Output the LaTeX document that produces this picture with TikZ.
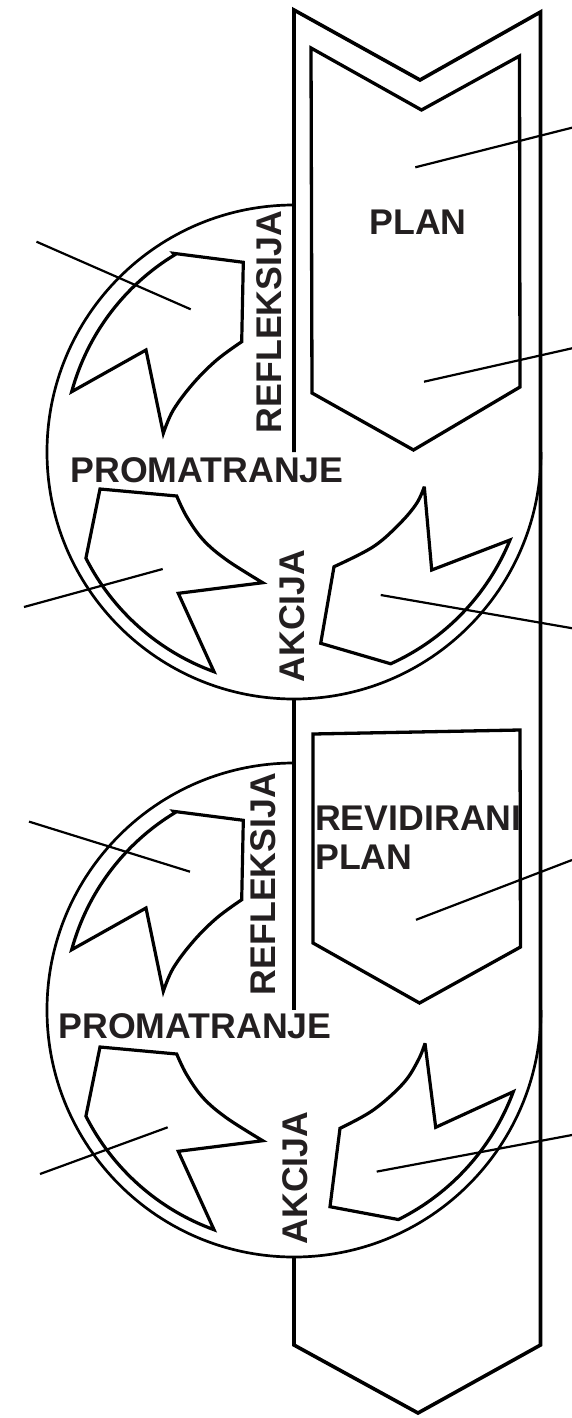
\documentclass[tikz,border=0pt]{standalone}
\usepackage{fontspec}
\setmainfont{Liberation Sans}
\definecolor{ink}{HTML}{231F20}
\begin{document}
\begin{tikzpicture}[x=1pt,y=-1pt,
  strip/.style={line width=3.6pt, line join=miter},
  planbox/.style={line width=3.3pt, line join=miter},
  ring/.style={line width=2.7pt},
  turn/.style={line width=3.2pt, line join=miter, miter limit=4},
  lead/.style={line width=2.2pt},
  lbl/.style={inner sep=0pt, text=ink, font=\fontsize{35.7}{39}\selectfont\bfseries}]
\useasboundingbox (0,0) rectangle (572,1418);

% big strip arrow
\draw[strip] (294,452) -- (294,10) -- (420,80) -- (540.5,12) -- (540.5,1345)
  -- (418,1413) -- (294,1345) -- (294,1257);
\draw[strip] (294,700) -- (294,1010);

% PLAN arrow and revised plan box
\draw[planbox] (311,48) -- (421.5,110) -- (519.5,56) -- (520,387) -- (413.5,450) -- (312,393) -- cycle;
\draw[planbox] (313,734) -- (520,730) -- (520.5,947) -- (419.5,1003) -- (313,943) -- cycle;

% circles with the two common turning arrows
\foreach \cy in {452,1010} {
\begin{scope}[shift={(294,\cy)}]
  \draw[ring] (247,0) arc[start angle=0, end angle=270, radius=247];
  \draw[turn] (-120.7,-198.7) -- (-50.7,-189.7) -- (-52.3,-110.3)
    -- plot[smooth, tension=0.6] coordinates {(-52.3,-110.3) (-77.3,-92) (-100.7,-68.7) (-120.7,-42) (-130.7,-18.7)}
    -- (-148,-102) -- (-222.3,-60.3) arc[start angle=-164.8, end angle=-121.3, radius=231] -- cycle;
  \draw[turn] (-194,37) -- (-117.3,44)
    -- plot[smooth, tension=0.6] coordinates {(-117.3,44) (-107.3,64.7) (-90.7,88) (-67.3,108) (-31.3,130.7)}
    -- (-115.7,141.3) -- (-80,219.7) arc[start angle=110, end angle=153.1, radius=233] -- cycle;
\end{scope}
}
% lower right arrows
\begin{scope}[shift={(294,452)}]
  \draw[turn] (130.3,34.7) -- (137.7,118) -- (216,88) arc[start angle=22.2, end angle=65.7, radius=232]
    -- (26.7,191.3) -- (40,114.7)
    -- plot[smooth, tension=0.6] coordinates {(40,114.7) (79.3,94.7) (106,71.3) (122.7,51.3) (130.3,34.7)} -- cycle;
\end{scope}
\begin{scope}[shift={(294,1010)}]
  \draw[turn] (131,33.3) -- (141.7,117.3) -- (219.3,81.7) arc[start angle=20.4, end angle=63.5, radius=234]
    -- (36,196.7) -- (46,118.3)
    -- plot[smooth, tension=0.6] coordinates {(46,118.3) (79.3,100) (109.3,73.3) (124.3,50) (131,33.3)} -- cycle;
\end{scope}

% labels
\node[lbl] (plan) at (418,222) {PLAN};
\node[lbl, rotate=90] (refl1) at (269,322) {REFLEKSIJA};
\node[lbl] (prom1) at (207,470.5) {PROMATRANJE};
\node[lbl, rotate=90] (akc1) at (292,616) {AKCIJA};
\node[lbl, anchor=base west] (rev1) at (315,830.5) {REVIDIRANI};
\node[lbl, anchor=base west] (rev2) at (315,869.5) {PLAN};
\node[lbl, rotate=90] (refl2) at (263.7,884) {REFLEKSIJA};
\node[lbl] (prom2) at (195,1026) {PROMATRANJE};
\node[lbl, rotate=90] (akc2) at (295,1178) {AKCIJA};

% leader lines
\coordinate (l1a) at (415.3,167.3); \coordinate (l1b) at (572,127.7);
\coordinate (l2a) at (424,381.7);   \coordinate (l2b) at (572,348.3);
\coordinate (l3a) at (190.7,309.3); \coordinate (l3b) at (36.5,241.7);
\coordinate (l4a) at (162.7,569);   \coordinate (l4b) at (24,607);
\coordinate (l5a) at (380.7,595);   \coordinate (l5b) at (572,628.2);
\coordinate (l6a) at (190,871.7);   \coordinate (l6b) at (29,821.6);
\coordinate (l7a) at (416,919.8);   \coordinate (l7b) at (572,860);
\coordinate (l8a) at (167.7,1127.3);\coordinate (l8b) at (40,1174);
\coordinate (l9a) at (376.7,1171.6);\coordinate (l9b) at (572,1135);
\foreach \i in {1,...,9} { \draw[lead] (l\i a) -- (l\i b); }
\end{tikzpicture}
\end{document}
